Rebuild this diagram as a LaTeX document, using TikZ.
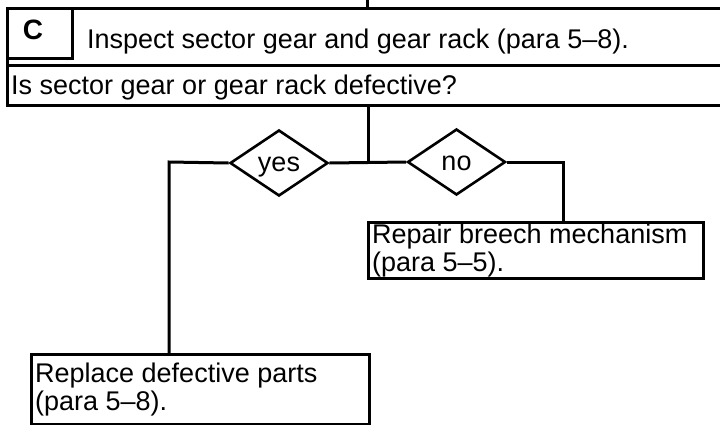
\documentclass[tikz,border=0pt]{standalone}
\usepackage{fontspec}
\setmainfont{Liberation Sans}
\usetikzlibrary{shapes.geometric}
\begin{document}
\begin{tikzpicture}[x=1pt,y=-1pt,
  every node/.style={font=\fontsize{27}{28}\selectfont},
  frame/.style={draw=black, line width=3pt, inner sep=0pt},
  boxtext/.style={anchor=base west, inner sep=0pt, align=left},
  dec/.style={diamond, draw=black, line width=2.6pt, inner sep=0pt, minimum width=98pt, minimum height=66pt, text height=16pt, text depth=0pt},
  conn/.style={draw=black, line width=3pt}]
\useasboundingbox (0,0) rectangle (720,424);
\clip (0,0) rectangle (720,424);
\fill[white] (0,0) rectangle (720,424);
% header rows
\node[frame, anchor=north west, minimum width=730pt, minimum height=57pt] (row1) at (6,7) {};
\node[frame, anchor=north west, minimum width=730pt, minimum height=40pt] (row2) at (6,64) {};
\node[frame, anchor=north west, minimum width=65pt, minimum height=50pt] (cbox) at (6,7) {};
\node[font=\fontsize{28}{30}\selectfont\bfseries, anchor=base] (cletter) at (33,39) {C};
\node[boxtext] (inspect) at (87,48) {Inspect sector gear and gear rack (para 5--8).};
\node[boxtext] (question) at (11,94) {Is sector gear or gear rack defective?};
% decisions
\node[dec] (yes) at (279,163) {yes};
\node[dec] (no) at (456.5,162) {no};
% result boxes
\node[frame, anchor=north west, minimum width=335pt, minimum height=56pt] (repair) at (367,221) {};
\node[boxtext] (repairtext) at ([xshift=5pt,yshift=-50pt]repair.north west) {Repair breech mechanism\\(para 5--5).};
\node[frame, anchor=north west, minimum width=338pt, minimum height=70pt] (replace) at (30,353) {};
\node[boxtext] (replacetext) at ([xshift=5pt,yshift=-57pt]replace.north west) {Replace defective parts\\(para 5--8).};
% connectors
\coordinate (topin) at (367,0);
\coordinate (junc) at (368,162);
\coordinate (ycorner) at (169,162);
\coordinate (ncorner) at (563,162);
\draw[conn] (topin) -- (topin |- row1.north);
\draw[conn] (row2.south -| junc) -- (junc);
\draw[conn] (yes.east) -- (no.west);
\draw[conn] (yes.west) -- (ycorner) -- (ycorner |- replace.north);
\draw[conn] (no.east) -- (ncorner) -- (ncorner |- repair.north);
\end{tikzpicture}
\end{document}
